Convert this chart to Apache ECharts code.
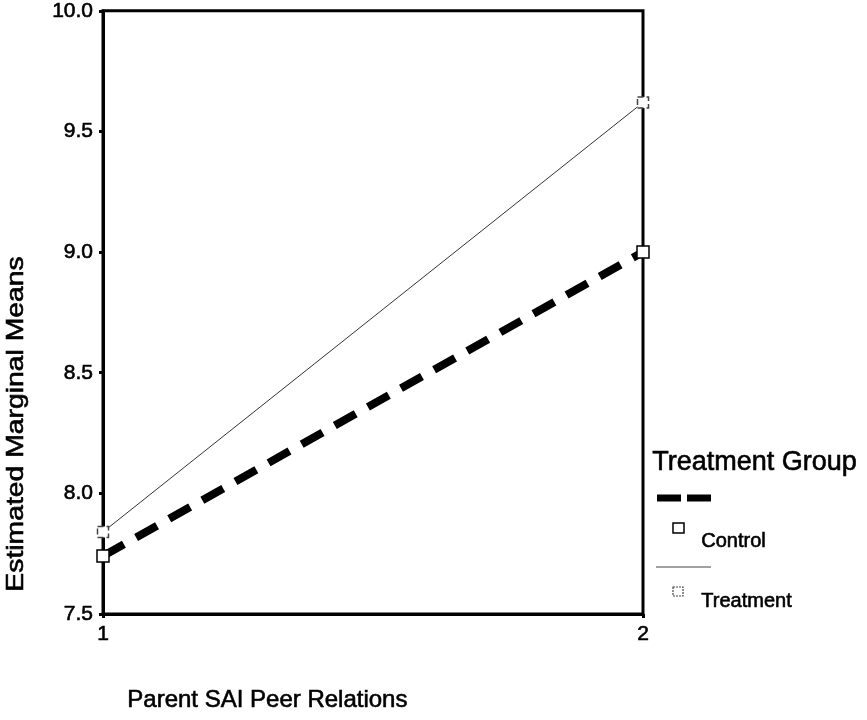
<!DOCTYPE html>
<html>
<head>
<meta charset="utf-8">
<script src="https://cdn.jsdelivr.net/npm/echarts@6/dist/echarts.min.js"></script>
<style>
  html, body { margin: 0; padding: 0; background: #fff; }
  #chart { width: 867px; height: 720px; }
</style>
</head>
<body>
<div id="chart"></div>
<script>
// Estimated marginal means by Parent SAI Peer Relations level
const levels = [1, 2];
const controlMeans = [7.74, 9.0];
const treatmentMeans = [7.84, 9.62];
const yTicks = [7.5, 8.0, 8.5, 9.0, 9.5, 10.0];

const xTitle = 'Parent SAI Peer Relations';
const yTitle = 'Estimated Marginal Means';
const legendTitle = 'Treatment Group';
const groupNames = ['Control', 'Treatment'];

const FONT = '"Liberation Sans", Arial, sans-serif';
// slightly heavier strokes on all text
const INK = { fill: '#000', stroke: '#000', lineWidth: 0.6 };

const chart = echarts.init(document.getElementById('chart'));

const pairs = (xs, ys) => xs.map((x, i) => [x, ys[i]]);

const labelStyle = {
  color: '#000', fontFamily: FONT, fontSize: 21, margin: 10,
  textBorderColor: '#000', textBorderWidth: 0.6
};

chart.setOption({
  animation: false,
  backgroundColor: '#fff',
  grid: {
    left: 103, right: 224, top: 10, bottom: 106,
    show: true, borderColor: '#000', borderWidth: 3, backgroundColor: 'transparent'
  },
  xAxis: {
    type: 'value', min: 1, max: 2, interval: 1,
    axisLine: { show: true, lineStyle: { color: '#000', width: 3 } },
    axisTick: { show: true, length: 4, lineStyle: { color: '#000', width: 3 } },
    axisLabel: Object.assign({ formatter: v => String(v) }, labelStyle),
    splitLine: { show: false }
  },
  yAxis: {
    type: 'value', min: 7.5, max: 10, interval: 0.5,
    axisLine: { show: true, lineStyle: { color: '#000', width: 3 } },
    axisTick: { show: true, length: 4, lineStyle: { color: '#000', width: 3 } },
    axisLabel: Object.assign({ formatter: v => yTicks.includes(v) ? v.toFixed(1) : '' }, labelStyle),
    splitLine: { show: false }
  },
  series: [
    {
      name: groupNames[1], type: 'line', data: pairs(levels, treatmentMeans),
      symbol: 'rect', symbolSize: 11, z: 3,
      lineStyle: { color: '#333', width: 1 },
      itemStyle: { color: '#fff', borderColor: '#444', borderWidth: 1.5, borderType: 'dashed' }
    },
    {
      name: groupNames[0], type: 'line', data: pairs(levels, controlMeans),
      symbol: 'rect', symbolSize: 12, z: 4,
      lineStyle: { color: '#000', width: 8, type: [24, 14] },
      itemStyle: { color: '#fff', borderColor: '#000', borderWidth: 1.5 }
    }
  ],
  graphic: [
    // axis titles
    { type: 'text', x: 16, y: 424, rotation: Math.PI / 2, scaleX: 1.18,
      style: Object.assign({ text: yTitle, font: '24px ' + FONT,
        textAlign: 'center', textVerticalAlign: 'middle' }, INK) },
    { type: 'text', left: 127, top: 688,
      style: Object.assign({ text: xTitle, font: '24px ' + FONT }, INK) },
    // legend block
    { type: 'text', left: 652, top: 449,
      style: Object.assign({ text: legendTitle, font: '27px ' + FONT }, INK) },
    { type: 'line', shape: { x1: 657, y1: 498, x2: 711, y2: 498 },
      style: { stroke: '#000', lineWidth: 7, lineDash: [24, 6] } },
    { type: 'rect', shape: { x: 673, y: 523, width: 11, height: 10 },
      style: { fill: '#fff', stroke: '#000', lineWidth: 1.5 } },
    { type: 'text', left: 701, top: 531,
      style: Object.assign({ text: groupNames[0], font: '20px ' + FONT }, INK) },
    { type: 'line', shape: { x1: 656, y1: 567, x2: 711, y2: 567 },
      style: { stroke: '#444', lineWidth: 1 } },
    { type: 'rect', shape: { x: 673, y: 587, width: 10, height: 9 },
      style: { fill: '#fff', stroke: '#444', lineWidth: 1.2, lineDash: [2, 1] } },
    { type: 'text', left: 701, top: 591,
      style: Object.assign({ text: groupNames[1], font: '20px ' + FONT }, INK) }
  ]
});
</script>
</body>
</html>
